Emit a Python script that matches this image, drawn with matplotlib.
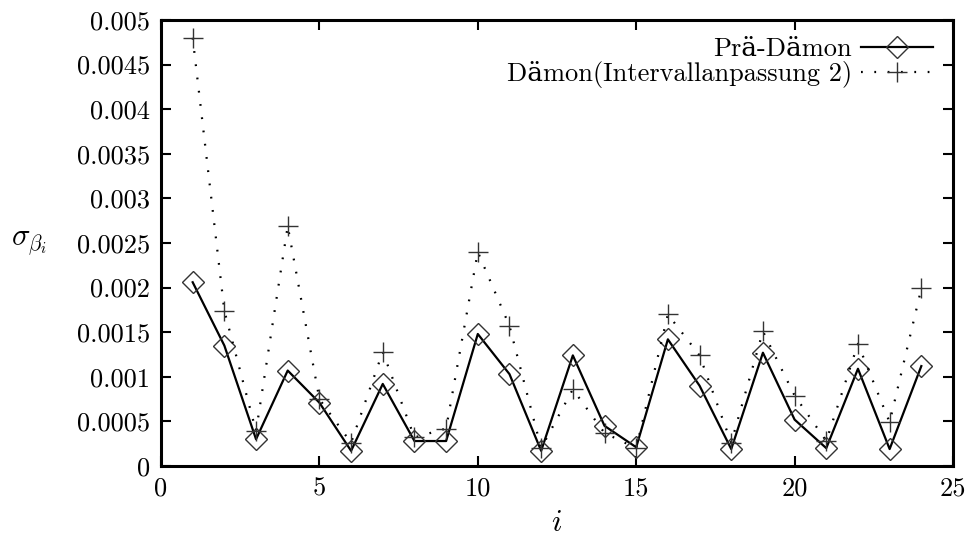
import matplotlib
matplotlib.use("Agg")
import matplotlib.pyplot as plt


i_values = list(range(1, 25))
pre_daemon = [0.00206, 0.00135, 0.00030, 0.00107, 0.00071, 0.00017, 0.00092, 0.00028,
              0.00028, 0.00148, 0.00103, 0.00017, 0.00124, 0.00045, 0.00021, 0.00142,
              0.00090, 0.00019, 0.00127, 0.00052, 0.00020, 0.00109, 0.00019, 0.00112]
daemon = [0.00480, 0.00174, 0.00039, 0.00269, 0.00075, 0.00026, 0.00128, 0.00032,
          0.00042, 0.00240, 0.00157, 0.00020, 0.00086, 0.00037, 0.00020, 0.00170,
          0.00124, 0.00026, 0.00151, 0.00079, 0.00028, 0.00137, 0.00049, 0.00199]
x_ticks = [0, 5, 10, 15, 20, 25]
y_ticks = [0.0, 0.0005, 0.001, 0.0015, 0.002, 0.0025, 0.003, 0.0035, 0.004, 0.0045, 0.005]
y_tick_labels = ["0", "0.0005", "0.001", "0.0015", "0.002", "0.0025",
                 "0.003", "0.0035", "0.004", "0.0045", "0.005"]

plt.rcParams["font.family"] = ["cmr10", "DejaVu Serif"]
plt.rcParams["mathtext.fontset"] = "cm"
plt.rcParams["axes.formatter.use_mathtext"] = True

fig = plt.figure(figsize=(9.67, 5.43), dpi=100)
ax = fig.add_axes([161 / 967, 1 - 466 / 543, (953 - 161) / 967, (466 - 20) / 543])

ax.plot(i_values, pre_daemon, color="black", linewidth=1.6, marker="D", markersize=11,
        markerfacecolor="none", markeredgecolor="#333333", markeredgewidth=1.0,
        label="Prä-Dämon")
ax.plot(i_values, daemon, color="black", linewidth=1.6, linestyle=(0, (0.8, 5.2)),
        marker="+", markersize=15, markeredgecolor="#333333", markeredgewidth=1.0,
        label="Dämon(Intervallanpassung 2)")

ax.set_xlim(0, 25)
ax.set_ylim(0, 0.005)
ax.set_xticks(x_ticks)
ax.set_xticklabels([str(t) for t in x_ticks])
ax.set_yticks(y_ticks)
ax.set_yticklabels(y_tick_labels)
ax.tick_params(direction="in", length=7, width=1.5, top=True, right=True,
               labelsize=19, pad=8)
for spine in ax.spines.values():
    spine.set_linewidth(2.2)

ax.set_xlabel(r"$i$", fontsize=22, labelpad=6)
ax.set_ylabel(r"$\sigma_{\beta_i}$", fontsize=22, rotation=0, labelpad=34, va="center")

ax.legend(loc="upper right", bbox_to_anchor=(0.996, 1.0), frameon=False,
          markerfirst=False, fontsize=19, handlelength=2.7, handletextpad=0.35,
          labelspacing=0.0, borderpad=0.15)

fig.savefig("out.png", dpi=100)
